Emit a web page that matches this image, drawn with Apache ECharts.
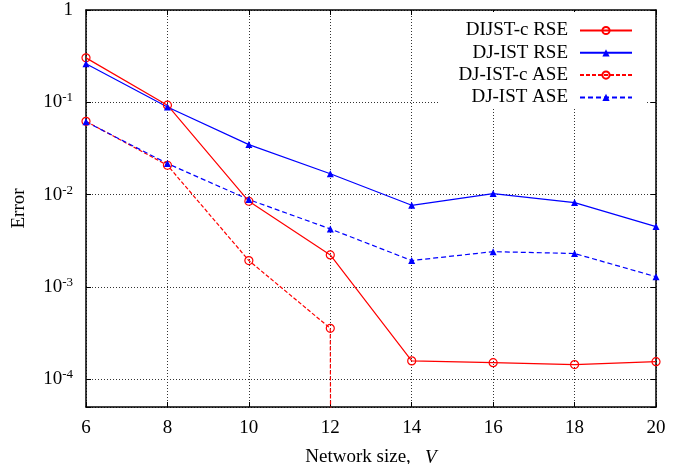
<!DOCTYPE html>
<html>
<head>
<meta charset="utf-8">
<script src="https://cdn.jsdelivr.net/npm/echarts@6/dist/echarts.min.js"></script>
<style>
  html, body { margin: 0; padding: 0; background: #fff; }
  #chart { width: 688px; height: 464px; }
</style>
</head>
<body>
<div id="chart"></div>
<script>
// Network sizes on the x axis
const networkSizes = [6, 8, 10, 12, 14, 16, 18, 20];

// Error values per method (0 = exact recovery)
const dijstcRse = [0.303, 0.093, 0.00847, 0.00222, 0.000158, 0.000151, 0.000144, 0.000155];
const djistRse  = [0.262, 0.089, 0.0348, 0.0168, 0.00766, 0.01025, 0.00819, 0.0045];
const djistcAse = [0.0622, 0.0208, 0.00193, 0.000356, 0, 0, 0, 0];
const djistAse  = [0.0614, 0.0217, 0.00883, 0.00425, 0.00193, 0.00241, 0.0023, 0.00129];

const seriesNames = ['DIJST-c RSE', 'DJ-IST RSE', 'DJ-IST-c ASE', 'DJ-IST ASE'];

// y-axis range (log scale)
const yMin = 5e-5;
const yMax = 1;

// A log axis cannot show 0: exact zeros are placed far below the axis floor,
// so the curve drops straight off the bottom of the plot.
const LOG_FLOOR = 1e-300;

const RED = '#ff0000';
const BLUE = '#0000ff';
const FONT = 'Liberation Serif';

function pairs(values) {
  return networkSizes.map((x, i) => [x, values[i] > 0 ? values[i] : LOG_FLOOR]);
}

function powerLabel(value) {
  const e = Math.log10(value);
  const r = Math.round(e);
  if (Math.abs(e - r) > 1e-6) return '';
  if (r === 0) return '1';
  return '10{sup|' + r + '}';
}

const chart = echarts.init(document.getElementById('chart'), null, { renderer: 'canvas' });

const gridLine = { show: true, lineStyle: { color: '#333', width: 1, type: [1, 2] } };
const borderLine = { show: true, lineStyle: { color: '#000', width: 1.5 } };
const innerTick = { show: true, inside: true, length: 5, lineStyle: { color: '#000', width: 1 } };

chart.setOption({
  animation: false,
  backgroundColor: '#fff',
  textStyle: { fontFamily: FONT },
  grid: { left: 86, right: 32, top: 10, bottom: 57, outerBoundsMode: 'none', containLabel: false },
  legend: {
    orient: 'vertical',
    right: 43,
    top: 12,
    align: 'right',
    itemWidth: 52,
    itemHeight: 9,
    itemGap: 3.3,
    padding: [9, 12, 0, 20],
    backgroundColor: '#fff',
    selectedMode: false,
    data: seriesNames,
    textStyle: { fontFamily: FONT, fontSize: 19, color: '#000', padding: [0, 7, 0, 0] }
  },
  xAxis: [
    {
      type: 'value',
      min: 6,
      max: 20,
      interval: 2,
      name: 'Network size,   {i|V}',
      nameLocation: 'middle',
      nameGap: 41,
      nameTextStyle: {
        fontFamily: FONT, fontSize: 19, color: '#000',
        rich: { i: { fontFamily: FONT, fontSize: 19, fontStyle: 'italic', color: '#000' } }
      },
      axisLine: borderLine,
      axisTick: innerTick,
      splitLine: gridLine,
      axisLabel: { fontFamily: FONT, fontSize: 19, color: '#000', margin: 12 }
    },
    {
      type: 'value',
      position: 'top',
      min: 6,
      max: 20,
      interval: 2,
      axisLine: borderLine,
      axisTick: innerTick,
      splitLine: { show: false },
      axisLabel: { show: false }
    }
  ],
  yAxis: [
    {
      type: 'log',
      logBase: 10,
      min: yMin,
      max: yMax,
      name: 'Error',
      nameLocation: 'middle',
      nameGap: 57,
      nameTextStyle: { fontFamily: FONT, fontSize: 19, color: '#000' },
      axisLine: borderLine,
      axisTick: innerTick,
      minorTick: { show: false },
      splitLine: gridLine,
      axisLabel: {
        margin: 13,
        fontFamily: FONT,
        fontSize: 19,
        color: '#000',
        formatter: powerLabel,
        rich: {
          sup: { fontFamily: FONT, fontSize: 13, color: '#000', verticalAlign: 'top', lineHeight: 13 }
        },
        lineHeight: 22
      }
    },
    {
      type: 'log',
      logBase: 10,
      min: yMin,
      max: yMax,
      position: 'right',
      axisLine: borderLine,
      axisTick: innerTick,
      splitLine: { show: false },
      axisLabel: { show: false }
    }
  ],
  series: [
    {
      name: seriesNames[0],
      type: 'line',
      data: pairs(dijstcRse),
      symbol: 'circle',
      symbolSize: 8,
      itemStyle: { color: 'transparent', borderColor: RED, borderWidth: 1.2 },
      lineStyle: { color: RED, width: 1.2 },
      emphasis: { disabled: true }
    },
    {
      name: seriesNames[1],
      type: 'line',
      data: pairs(djistRse),
      symbol: 'triangle',
      symbolSize: 7,
      itemStyle: { color: BLUE },
      lineStyle: { color: BLUE, width: 1.2 },
      emphasis: { disabled: true }
    },
    {
      name: seriesNames[2],
      type: 'line',
      data: pairs(djistcAse),
      symbol: 'circle',
      symbolSize: 8,
      itemStyle: { color: 'transparent', borderColor: RED, borderWidth: 1.2 },
      lineStyle: { color: RED, width: 1.2, type: [4, 2] },
      emphasis: { disabled: true }
    },
    {
      name: seriesNames[3],
      type: 'line',
      data: pairs(djistAse),
      symbol: 'triangle',
      symbolSize: 7,
      itemStyle: { color: BLUE },
      lineStyle: { color: BLUE, width: 1.2, type: [5, 3] },
      emphasis: { disabled: true }
    }
  ]
});
</script>
</body>
</html>
